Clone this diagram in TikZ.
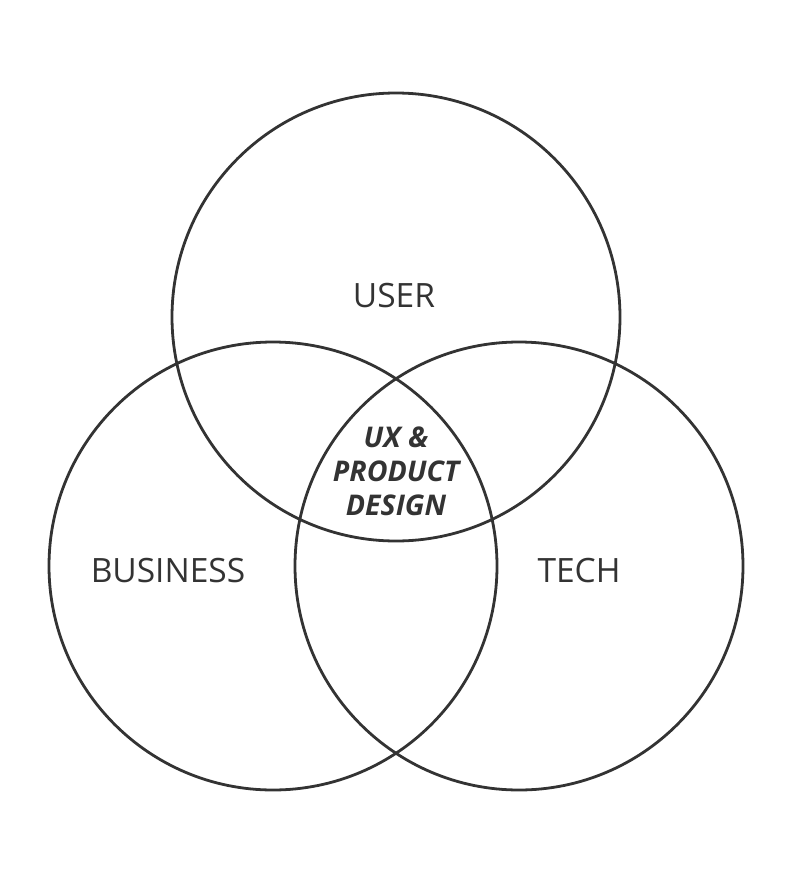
\documentclass[tikz,border=0pt]{standalone}
\usepackage{fontspec}
\setmainfont{Open Sans}
\usepackage{tikz}
\usepackage{xcolor}
\definecolor{ink}{HTML}{333333}

\begin{document}
\begin{tikzpicture}[x=1pt, y=-1pt,
    set/.style={draw=ink, line width=2.8pt, circle, minimum size=448pt, inner sep=0pt},
    lbl/.style={text=ink, font=\fontsize{33.5}{38}\selectfont},
    core/.style={text=ink, align=center, font=\fontsize{28.5}{34}\selectfont\bfseries\itshape}]
  \useasboundingbox (0,0) rectangle (791,891);
  \node[set] (U) at (396,317) {};
  \node[set] (B) at (273,566) {};
  \node[set] (T) at (519,566) {};

  \node[lbl]  (user)     at (394,296) {USER};
  \node[lbl]  (business) at (168,571) {BUSINESS};
  \node[lbl]  (tech)     at (579,571) {TECH};
  \node[core] (ux)       at (396,471) {UX \&\\PRODUCT\\DESIGN};
\end{tikzpicture}
\end{document}
